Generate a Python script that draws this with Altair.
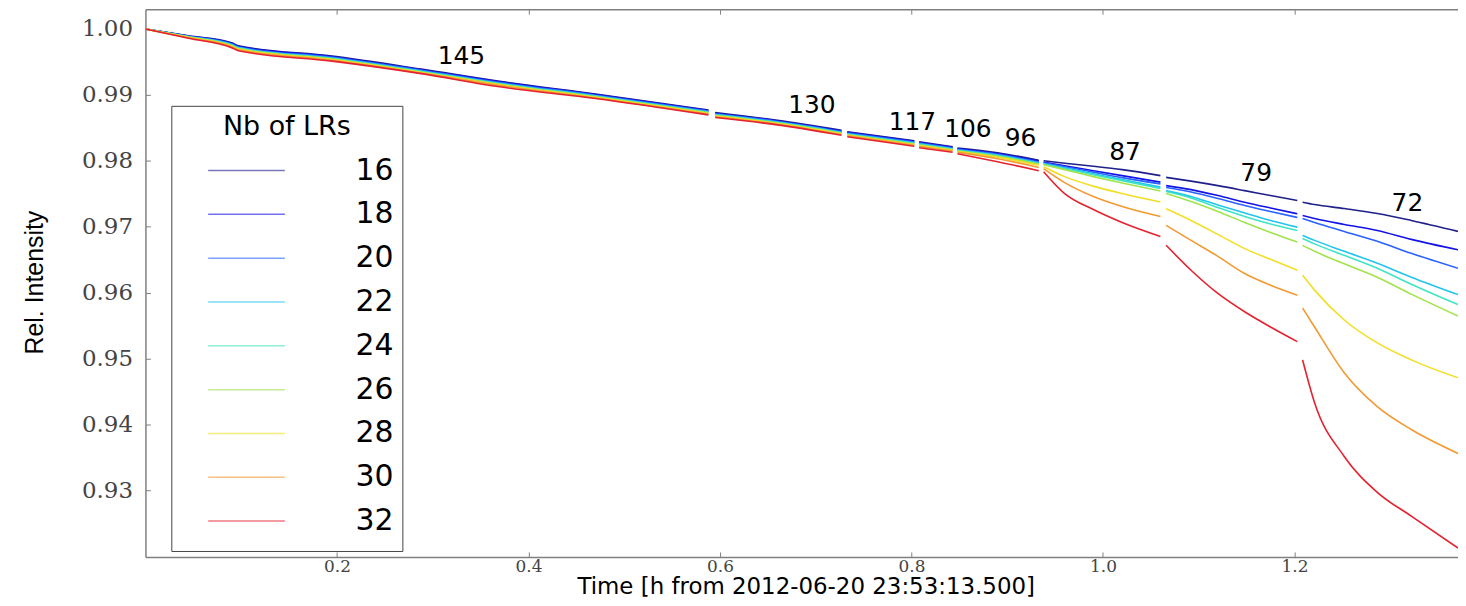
import altair as alt
import pandas as pd

# ---------------- data ----------------
series = ["16", "18", "20", "22", "24", "26", "28", "30", "32"]
colors = ["#20208a", "#1414e6", "#2a62ff", "#22c4ee", "#3ee4c4",
          "#a2e24c", "#f2de22", "#f29a32", "#e42230"]

# time [h] sample points of each fill segment (gaps between segments)
seg_x = [
    [0.0, 0.045, 0.09, 0.097, 0.195, 0.288, 0.368, 0.47, 0.588],
    [0.595, 0.66, 0.727],
    [0.733, 0.803],
    [0.808, 0.843],
    [0.848, 0.89, 0.933],
    [0.938, 0.960, 0.990, 1.020, 1.060],
    [1.066, 1.092, 1.120, 1.148, 1.175, 1.203],
    [1.2085, 1.221, 1.252, 1.2865, 1.322, 1.3708],
]

rel_16 = [
    [1.0000, 0.99897, 0.99792, 0.99746, 0.99588, 0.99391, 0.99210, 0.99014, 0.98772],
    [0.98731, 0.98613, 0.98462],
    [0.98440, 0.98304],
    [0.98289, 0.98213],
    [0.98193, 0.98122, 0.98009],
    [0.98002, 0.97964, 0.97918, 0.97866, 0.97775],
    [0.97749, 0.97692, 0.97624, 0.97548, 0.97473, 0.97397],
    [0.97372, 0.97337, 0.97276, 0.97201, 0.97095, 0.96929],
]
rel_18 = [
    [1.0000, 0.99893, 0.99783, 0.99737, 0.99580, 0.99382, 0.99201, 0.99005, 0.98763],
    [0.98722, 0.98605, 0.98453],
    [0.98431, 0.98295],
    [0.98279, 0.98204],
    [0.98184, 0.98110, 0.97995],
    [0.97979, 0.97926, 0.97850, 0.97775, 0.97677],
    [0.97624, 0.97563, 0.97473, 0.97372, 0.97284, 0.97196],
    [0.97171, 0.97125, 0.97035, 0.96944, 0.96808, 0.96650],
]
rel_20 = [
    [1.0000, 0.99889, 0.99774, 0.99728, 0.99570, 0.99373, 0.99192, 0.98996, 0.98754],
    [0.98713, 0.98597, 0.98444],
    [0.98422, 0.98285],
    [0.98269, 0.98195],
    [0.98175, 0.98100, 0.97983],
    [0.97971, 0.97911, 0.97828, 0.97745, 0.97650],
    [0.97594, 0.97526, 0.97428, 0.97322, 0.97231, 0.97141],
    [0.97125, 0.97065, 0.96929, 0.96778, 0.96597, 0.96370],
]
rel_22 = [
    [1.0000, 0.99884, 0.99763, 0.99717, 0.99559, 0.99362, 0.99180, 0.98985, 0.98742],
    [0.98702, 0.98587, 0.98433],
    [0.98411, 0.98273],
    [0.98257, 0.98184],
    [0.98164, 0.98087, 0.97970],
    [0.97956, 0.97896, 0.97805, 0.97715, 0.97601],
    [0.97548, 0.97458, 0.97329, 0.97208, 0.97095, 0.96994],
    [0.96869, 0.96793, 0.96627, 0.96446, 0.96234, 0.95970],
]
rel_24 = [
    [1.0000, 0.99880, 0.99756, 0.99710, 0.99552, 0.99355, 0.99173, 0.98978, 0.98735],
    [0.98695, 0.98580, 0.98426],
    [0.98404, 0.98265],
    [0.98249, 0.98177],
    [0.98157, 0.98078, 0.97960],
    [0.97949, 0.97881, 0.97790, 0.97699, 0.97579],
    [0.97533, 0.97435, 0.97291, 0.97156, 0.97042, 0.96944],
    [0.96823, 0.96740, 0.96566, 0.96370, 0.96128, 0.95819],
]
rel_26 = [
    [1.0000, 0.99877, 0.99748, 0.99702, 0.99544, 0.99348, 0.99165, 0.98970, 0.98727],
    [0.98687, 0.98573, 0.98418],
    [0.98396, 0.98256],
    [0.98240, 0.98169],
    [0.98149, 0.98068, 0.97948],
    [0.97941, 0.97866, 0.97760, 0.97662, 0.97541],
    [0.97503, 0.97382, 0.97231, 0.97065, 0.96914, 0.96767],
    [0.96718, 0.96627, 0.96438, 0.96234, 0.95977, 0.95645],
]
rel_28 = [
    [1.0000, 0.99873, 0.99741, 0.99695, 0.99537, 0.99341, 0.99158, 0.98963, 0.98720],
    [0.98680, 0.98566, 0.98411],
    [0.98389, 0.98248],
    [0.98232, 0.98161],
    [0.98141, 0.98055, 0.97932],
    [0.97911, 0.97760, 0.97616, 0.97503, 0.97375],
    [0.97272, 0.97095, 0.96884, 0.96668, 0.96506, 0.96340],
    [0.96264, 0.96038, 0.95585, 0.95237, 0.94980, 0.94708],
]
rel_30 = [
    [1.0000, 0.99867, 0.99730, 0.99684, 0.99526, 0.99332, 0.99145, 0.98954, 0.98710],
    [0.98669, 0.98556, 0.98400],
    [0.98378, 0.98236],
    [0.98218, 0.98148],
    [0.98128, 0.98032, 0.97900],
    [0.97881, 0.97669, 0.97458, 0.97307, 0.97156],
    [0.97020, 0.96793, 0.96551, 0.96290, 0.96113, 0.95962],
    [0.95766, 0.95479, 0.94784, 0.94270, 0.93923, 0.93560],
]
rel_32 = [
    [1.0000, 0.99860, 0.99716, 0.99671, 0.99512, 0.99323, 0.99127, 0.98946, 0.98696],
    [0.98656, 0.98545, 0.98387],
    [0.98364, 0.98221],
    [0.98198, 0.98130],
    [0.98107, 0.97986, 0.97850],
    [0.97835, 0.97503, 0.97261, 0.97065, 0.96853],
    [0.96718, 0.96340, 0.95988, 0.95710, 0.95479, 0.95257],
    [0.94980, 0.94331, 0.93515, 0.92971, 0.92609, 0.92125],
]

ann_text = ["145", "130", "117", "106", "96", "87", "79", "72"]
ann_x = [0.330, 0.696, 0.801, 0.859, 0.914, 1.023, 1.160, 1.318]
ann_y = [0.99588, 0.98847, 0.98591, 0.98485, 0.98349, 0.98137, 0.97820, 0.97352]

x_ticks = [0.2, 0.4, 0.6, 0.8, 1.0, 1.2]
y_ticks = [0.93, 0.94, 0.95, 0.96, 0.97, 0.98, 0.99, 1.00]
x_domain = [0.0, 1.3708]
y_domain = [0.9199, 1.0030]

# ---------------- tables ----------------
all_rel = [rel_16, rel_18, rel_20, rel_22, rel_24, rel_26, rel_28, rel_30, rel_32]
rows = []
for name, segs in zip(series, all_rel):
    for si, (xs, ys) in enumerate(zip(seg_x, segs)):
        for xv, yv in zip(xs, ys):
            rows.append({"t": xv, "rel": yv, "lrs": name, "seg": f"{name}-{si}"})
df = pd.DataFrame(rows)
ann_df = pd.DataFrame({"t": ann_x, "rel": ann_y, "label": ann_text})

W, H = 1318, 550
xs = alt.Scale(domain=x_domain, nice=False, zero=False)
ys = alt.Scale(domain=y_domain, nice=False, zero=False)
GRAY = "#808080"

lines = alt.Chart(df).mark_line(strokeWidth=1.6, interpolate="monotone", clip=True).encode(
    x=alt.X("t:Q", scale=xs, axis=alt.Axis(
        orient="bottom", values=x_ticks, format=".1f",
        title="Time [h from 2012-06-20 23:53:13.500]",
        titleFont="DejaVu Sans", titleFontSize=23, titleFontWeight="normal",
        titleColor="black", titleX=663, titleY=37, titleBaseline="alphabetic",
        titleAnchor="start", titleAlign="center",
        labelFont="DejaVu Serif", labelFontSize=17, labelColor="#444",
        labelPadding=2, ticks=False, domainColor=GRAY, domainWidth=1.5,
        grid=False, labelFlush=False)),
    y=alt.Y("rel:Q", scale=ys, axis=alt.Axis(
        orient="left", values=y_ticks, format=".2f",
        title="Rel. Intensity", titleFont="Liberation Sans", titleFontSize=25,
        titleFontWeight="normal", titleColor="black", titleAngle=270,
        titleX=-111, titleY=274, titleAlign="center", titleBaseline="middle",
        titleAnchor="start",
        labelFont="DejaVu Serif", labelFontSize=23, labelColor="#444",
        labelPadding=13, ticks=False, domainColor=GRAY, domainWidth=1.5,
        grid=False, labelFlush=False)),
    color=alt.Color("lrs:N", sort=series, scale=alt.Scale(domain=series, range=colors),
                    legend=alt.Legend(
                        title="Nb of LRs", orient="none", legendX=26, legendY=97,
                        symbolType="stroke", symbolSize=5929, symbolStrokeWidth=1.5,
                        symbolOpacity=0.6, clipHeight=44, rowPadding=0,
                        symbolOffset=28, labelOffset=70,
                        labelFont="DejaVu Sans", labelFontSize=30, labelColor="black",
                        titleFont="DejaVu Sans", titleFontSize=27, titleFontWeight="normal",
                        titleColor="black", titleAnchor="middle", titlePadding=8,
                        strokeColor="#444", fillColor="white", padding=8)),
    detail="seg:N",
    order="t:Q",
)

ann = alt.Chart(ann_df).mark_text(font="DejaVu Sans", fontSize=25, color="black").encode(
    x=alt.X("t:Q", scale=xs, axis=alt.Axis(
        orient="top", offset=-H, values=x_ticks, labels=False, domain=False,
        ticks=True, tickSize=5, tickColor=GRAY, title=None, grid=False)),
    y=alt.Y("rel:Q", scale=ys, axis=alt.Axis(
        orient="right", offset=-W, values=y_ticks, labels=False, domain=False,
        ticks=True, tickSize=5, tickColor=GRAY, title=None, grid=False)),
    text="label:N",
)

frame = alt.Chart(ann_df).mark_point(opacity=0).encode(
    x=alt.X("t:Q", scale=xs, axis=alt.Axis(
        orient="bottom", offset=-H, values=x_ticks, labels=False, domain=True,
        domainColor=GRAY, domainWidth=1.5, ticks=True, tickSize=5,
        tickColor=GRAY, title=None, grid=False)),
    y=alt.Y("rel:Q", scale=ys, axis=None),
)

chart = alt.layer(lines, ann, frame).properties(
    width=W, height=H,
    padding={"left": 138, "top": 0, "right": 0, "bottom": 40},
    autosize=alt.AutoSizeParams(type="none"),
).configure_view(stroke=None)

chart.save("out.html", embed_options={"renderer": "svg", "actions": False})
